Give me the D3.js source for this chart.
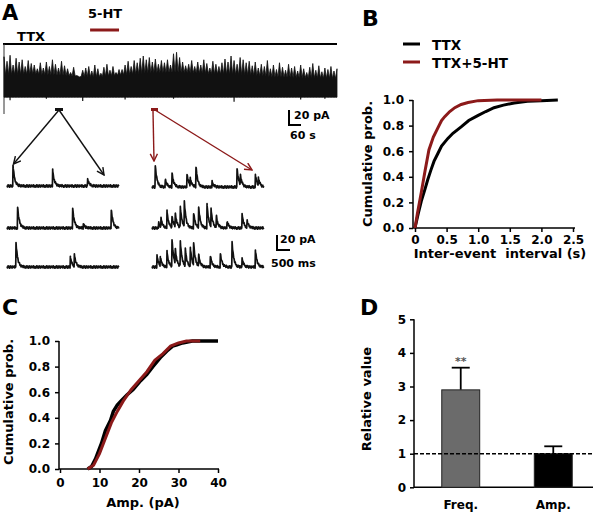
<!DOCTYPE html>
<html>
<head>
<meta charset="utf-8">
<script src="https://cdn.jsdelivr.net/npm/d3@7"></script>
<style>
  body { margin: 0; background: #fff; }
  svg { display: block; font-family: "DejaVu Sans", sans-serif; font-weight: bold; }
  .axis path, .axis line { stroke: #000; stroke-width: 1.5; }
  .axis text { font-size: 12px; font-weight: bold; font-family: "DejaVu Sans", sans-serif; fill: #000; }
</style>
</head>
<body>
<svg id="fig" width="600" height="515"></svg>
<script>
var RED = "#8c1a1a";

// ---- A : overview trace, one peak per column (pA above baseline), column = 16 s
var overviewPeaks = [
  51, 45, 53, 40, 49, 44,
  47, 38, 46, 42,
  40, 35, 43, 36,
  44, 38, 47, 41, 36, 45, 39,
  35, 30, 37, 26, 24, 33, 36,
  38, 32, 40, 35, 29, 37, 41, 33, 38, 30, 34,
  34, 40, 45, 38, 46, 43, 49,
  52, 47, 50, 44, 48, 41, 46,
  43, 47, 40, 55, 57,
  50, 44, 39,
  41, 46, 38, 44, 40, 47, 42, 36, 45, 41, 38, 43,
  48, 44, 52, 46, 41, 50, 47, 43, 45, 39,
  44, 36, 41, 38, 46, 35, 40, 34, 43, 37, 33, 41, 36,
  38, 32, 40, 35, 30, 37, 42, 33, 39, 31, 36, 34, 38, 32, 35
];
// solid part of the trace (pA), evenly spread over the recording
var overviewBand = [27, 28, 26, 24, 27, 30, 30, 28, 27, 24, 23, 22];
var overviewDips = [[2, -7], [14, -5], [26, -8], [40, -6], [56, -5], [76, -9], [98, -6], [106, -5]];
var colSeconds = 16;
var htOn = [455, 608];

// ---- A : example sweeps, events as [ms, pA]
var ttxEvents = [
  [[220, 27], [1745, 21], [3090, 9]],
  [[397, 28], [2515, 27], [2925, 5], [4000, 25]],
  [[335, 32], [2425, 13], [2580, 15]]
];
var htEvents = [
  [[115, 29], [500, 10], [760, 18], [1335, 18], [1460, 9], [1680, 27], [2300, 7], [3260, 25], [3390, 13], [3965, 16], [4080, 10]],
  [[243, 7], [335, 11], [566, 22], [758, 15], [885, 18], [1078, 27], [1232, 33], [1590, 20], [1783, 27], [2105, 31], [2260, 22], [2464, 15], [2876, 9], [3453, 18], [3646, 9]],
  [[181, 15], [308, 11], [566, 20], [758, 36], [885, 20], [1078, 33], [1270, 22], [1463, 24], [1590, 29], [1783, 15], [2233, 15], [2618, 18], [3068, 33], [3453, 11], [3965, 22]]
];
var baselineNoise = [0.6, -1.3, 1.5, -0.4, 1.1, -1.6, 0.3, 1.4, -0.9, 0.7, -1.4, 1.2, -0.3, 0.9, -1.1, 1.6, -0.7, 0.4, -1.5];
var sweepBase = [186, 228, 267];

// ---- B : inter-event interval cumulative distributions
var ttxIei  = [0, 0.05, 0.1, 0.15, 0.2, 0.25, 0.3, 0.36, 0.42, 0.52, 0.6, 0.73, 0.85, 1.0, 1.12, 1.25, 1.4, 1.57, 1.78, 2.0, 2.26];
var ttxIeiP = [0, 0.11, 0.21, 0.29, 0.375, 0.45, 0.52, 0.58, 0.64, 0.70, 0.74, 0.79, 0.84, 0.88, 0.91, 0.94, 0.96, 0.977, 0.99, 0.995, 1.0];
var htIei   = [0, 0.04, 0.1, 0.16, 0.22, 0.29, 0.36, 0.42, 0.47, 0.55, 0.63, 0.73, 0.84, 1.0, 1.3, 2.0];
var htIeiP  = [0, 0.12, 0.28, 0.45, 0.61, 0.71, 0.78, 0.84, 0.87, 0.91, 0.94, 0.965, 0.98, 0.995, 1.0, 1.0];
var ieiTicks = [0, 0.5, 1.0, 1.5, 2.0, 2.5];
var probTicks = [0, 0.2, 0.4, 0.6, 0.8, 1.0];

// ---- C : amplitude cumulative distributions
var ttxAmp  = [7, 8, 9, 9.5, 10.5, 11.5, 12.8, 13.5, 14.5, 15.4, 17, 18.5, 20.4, 22, 23.5, 25.4, 27, 28.5, 29.6, 31, 33.5, 40];
var ttxAmpP = [0, 0.02, 0.08, 0.12, 0.2, 0.3, 0.38, 0.45, 0.5, 0.53, 0.58, 0.62, 0.69, 0.74, 0.8, 0.87, 0.92, 0.96, 0.97, 0.985, 1.0, 1.0];
var htAmp   = [7, 8.5, 10, 11.5, 13, 14.5, 16, 18, 20, 22, 24, 26, 28, 30, 32, 35.5];
var htAmpP  = [0, 0.03, 0.12, 0.24, 0.36, 0.45, 0.53, 0.62, 0.69, 0.76, 0.85, 0.9, 0.96, 0.985, 1.0, 1.0];
var ampTicks = [0, 10, 20, 30, 40];

// ---- D : relative values
var barCats = ["Freq.", "Amp."];
var barMeans = [2.9, 1.0];
var barSem = [0.66, 0.22];
var barFills = ["#6b6b6b", "#000"];
var relTicks = [0, 1, 2, 3, 4, 5];

var svg = d3.select("#fig");

function label(x, y, txt, size, anchor) {
  return svg.append("text").attr("x", x).attr("y", y)
    .attr("font-size", size).attr("text-anchor", anchor || "start").text(txt);
}
function vlabel(x, y, txt) {
  return svg.append("text").attr("transform", "translate(" + x + "," + y + ") rotate(-90)")
    .attr("font-size", 13).attr("text-anchor", "middle").text(txt);
}

// ================= A
label(2, 20, "A", 21);
label(88, 18, "5-HT", 13);
label(17, 41, "TTX", 13);

var tEnd = (overviewPeaks.length - 1) * colSeconds;
var xO = d3.scaleLinear().domain([0, tEnd]).range([4, 337]);
var yO = d3.scaleLinear().domain([0, 20]).range([95, 80]);
// band level as a piecewise scale over time
var bandAt = d3.scaleLinear()
  .domain(overviewBand.map(function (d, i) { return i * tEnd / (overviewBand.length - 1); }))
  .range(overviewBand);

svg.append("line").attr("x1", xO(htOn[0])).attr("x2", xO(htOn[1]))
  .attr("y1", 30).attr("y2", 30).attr("stroke", RED).attr("stroke-width", 3);
svg.append("line").attr("x1", 3).attr("x2", 337).attr("y1", 44).attr("y2", 44)
  .attr("stroke", "#000").attr("stroke-width", 2);
svg.append("line").attr("x1", 4).attr("x2", 4).attr("y1", 44).attr("y2", 114)
  .attr("stroke", "#333").attr("stroke-width", 1);

// spiky envelope: peak at each column, back down to the band between columns
var env = [];
overviewPeaks.forEach(function (p, i) {
  var t = i * colSeconds;
  env.push([t, p]);
  if (i < overviewPeaks.length - 1) env.push([t + colSeconds / 2, bandAt(t + colSeconds / 2)]);
});
svg.append("path").datum(env)
  .attr("fill", "#111").attr("stroke", "#111").attr("stroke-width", 0.8)
  .attr("d", d3.area().x(function (d) { return xO(d[0]); })
    .y0(yO(-3)).y1(function (d) { return yO(d[1]); }));
svg.append("g").selectAll("line").data(overviewDips).enter().append("line")
  .attr("x1", function (d) { return xO(d[0] * colSeconds); })
  .attr("x2", function (d) { return xO(d[0] * colSeconds); })
  .attr("y1", yO(0)).attr("y2", function (d) { return yO(d[1]); })
  .attr("stroke", "#111").attr("stroke-width", 1.2);

// scale bars
svg.append("path").attr("d", "M289,110V125H301").attr("fill", "none").attr("stroke", "#000").attr("stroke-width", 2);
label(294, 119, "20 pA", 11);
label(290, 139, "60 s", 11);
svg.append("path").attr("d", "M277,235V250H290").attr("fill", "none").attr("stroke", "#000").attr("stroke-width", 2);
label(280, 243, "20 pA", 11);
label(271, 267, "500 ms", 11);

// arrows
var defs = svg.append("defs");
[["ahK", "#111"], ["ahR", RED]].forEach(function (m) {
  defs.append("marker").attr("id", m[0]).attr("viewBox", "0 -5 10 10")
    .attr("refX", 9).attr("refY", 0).attr("markerWidth", 9).attr("markerHeight", 9)
    .attr("markerUnits", "userSpaceOnUse").attr("orient", "auto")
    .append("path").attr("d", "M1,-4L9,0L1,4").attr("fill", "none")
    .attr("stroke", m[1]).attr("stroke-width", 1.6);
});
svg.append("rect").attr("x", 55).attr("y", 108).attr("width", 8).attr("height", 3).attr("fill", "#111");
svg.append("rect").attr("x", 151).attr("y", 108).attr("width", 7).attr("height", 3).attr("fill", RED);
[[59, 110, 13.5, 164, "#111", "ahK"], [59, 110, 104, 175, "#111", "ahK"],
 [153, 111, 154, 161, RED, "ahR"], [155, 110, 252, 170, RED, "ahR"]].forEach(function (a) {
  svg.append("line").attr("x1", a[0]).attr("y1", a[1]).attr("x2", a[2]).attr("y2", a[3])
    .attr("stroke", a[4]).attr("stroke-width", 1.4).attr("marker-end", "url(#" + a[5] + ")");
});

// example sweeps
function sweep(events, x0, base) {
  var xs = d3.scaleLinear().domain([0, 4300]).range([x0, x0 + 4300 * 13 / 500]);
  var ys = d3.scaleLinear().domain([0, 20]).range([base, base - 15]);
  var ts = d3.range(0, 4301, 20);
  events.forEach(function (e) { ts.push(e[0], e[0] + 12); });
  ts.sort(function (a, b) { return a - b; });
  var pts = ts.map(function (t, k) {
    var v = baselineNoise[k % baselineNoise.length];
    events.forEach(function (e) {
      var dt = t - e[0];
      if (dt >= 0) v += dt < 12 ? e[1] * dt / 12 : e[1] * Math.exp(-(dt - 12) / 65);
    });
    return [t, v];
  });
  svg.append("path").datum(pts).attr("fill", "none").attr("stroke", "#111")
    .attr("stroke-width", 1.7).attr("stroke-linejoin", "round")
    .attr("d", d3.line().x(function (d) { return xs(d[0]); }).y(function (d) { return ys(d[1]); }));
}
ttxEvents.forEach(function (ev, r) { sweep(ev, 7, sweepBase[r]); });
htEvents.forEach(function (ev, r) { sweep(ev, 152, sweepBase[r] + (r === 0 ? 1 : 0)); });

// ================= B
label(362, 26, "B", 22);
svg.append("line").attr("x1", 403).attr("x2", 420).attr("y1", 44).attr("y2", 44).attr("stroke", "#000").attr("stroke-width", 3);
label(432, 50, "TTX", 13.5);
svg.append("line").attr("x1", 403).attr("x2", 420).attr("y1", 62).attr("y2", 62).attr("stroke", RED).attr("stroke-width", 3);
label(432, 68, "TTX+5-HT", 13.5);

var xB = d3.scaleLinear().domain([0, 2.5]).range([415, 573]);
var yB = d3.scaleLinear().domain([0, 1]).range([228, 100]);
svg.append("g").attr("class", "axis").attr("transform", "translate(413,0)")
  .call(d3.axisLeft(yB).tickValues(probTicks).tickFormat(d3.format(".1f")).tickSize(4).tickPadding(5))
  .call(function (g) { g.select(".domain").remove(); });
svg.append("g").attr("class", "axis").attr("transform", "translate(0,228)")
  .call(d3.axisBottom(xB).tickValues(ieiTicks).tickFormat(function (d) { return d === 0 ? "0" : d3.format(".1f")(d); }).tickSize(4).tickPadding(3))
  .call(function (g) { g.select(".domain").remove(); });
svg.append("path").attr("d", "M413,100V228H575").attr("fill", "none").attr("stroke", "#000").attr("stroke-width", 1.5);

var lineB = d3.line().x(function (d) { return xB(d[0]); }).y(function (d) { return yB(d[1]); });
svg.append("path").datum(d3.zip(ttxIei, ttxIeiP)).attr("fill", "none").attr("stroke", "#000")
  .attr("stroke-width", 3).attr("d", lineB);
svg.append("path").datum(d3.zip(htIei, htIeiP)).attr("fill", "none").attr("stroke", RED)
  .attr("stroke-width", 3).attr("d", lineB);
label(500, 258, "Inter-event  interval (s)", 13, "middle").attr("xml:space", "preserve");
vlabel(372, 164, "Cumulative prob.");

// ================= C
label(2, 315, "C", 22);
var xC = d3.scaleLinear().domain([0, 40]).range([60, 218]);
var yC = d3.scaleLinear().domain([0, 1]).range([469, 341]);
svg.append("g").attr("class", "axis").attr("transform", "translate(59,0)")
  .call(d3.axisLeft(yC).tickValues(probTicks).tickFormat(d3.format(".1f")).tickSize(4).tickPadding(5))
  .call(function (g) { g.select(".domain").remove(); });
svg.append("g").attr("class", "axis").attr("transform", "translate(0,469)")
  .call(d3.axisBottom(xC).tickValues(ampTicks).tickFormat(d3.format("d")).tickSize(4).tickPadding(5))
  .call(function (g) { g.select(".domain").remove(); });
svg.append("path").attr("d", "M59,341V469H219").attr("fill", "none").attr("stroke", "#000").attr("stroke-width", 1.5);

var lineC = d3.line().x(function (d) { return xC(d[0]); }).y(function (d) { return yC(d[1]); });
svg.append("path").datum(d3.zip(ttxAmp, ttxAmpP)).attr("fill", "none").attr("stroke", "#000")
  .attr("stroke-width", 3.5).attr("d", lineC);
svg.append("path").datum(d3.zip(htAmp, htAmpP)).attr("fill", "none").attr("stroke", RED)
  .attr("stroke-width", 3).attr("d", lineC);
label(143, 507, "Amp. (pA)", 13, "middle");
vlabel(13, 402, "Cumulative prob.");

// ================= D
label(360, 315, "D", 22);
var xD = d3.scaleBand().domain(barCats).range([414, 600]).paddingInner(0.59).paddingOuter(0.3);
var yD = d3.scaleLinear().domain([0, 5]).range([487.3, 319.3]);
svg.append("g").attr("class", "axis").attr("transform", "translate(414,0)")
  .call(d3.axisLeft(yD).tickValues(relTicks).tickFormat(d3.format("d")).tickSize(4).tickPadding(4))
  .call(function (g) { g.select(".domain").remove(); });
svg.append("path").attr("d", "M414,319.3V487.3H593").attr("fill", "none").attr("stroke", "#000").attr("stroke-width", 1.5);

var bars = svg.append("g").selectAll("g").data(barCats).enter().append("g");
bars.append("line")
  .attr("x1", function (d) { return xD(d) + xD.bandwidth() / 2; })
  .attr("x2", function (d) { return xD(d) + xD.bandwidth() / 2; })
  .attr("y1", function (d, i) { return yD(barMeans[i]); })
  .attr("y2", function (d, i) { return yD(barMeans[i] + barSem[i]); })
  .attr("stroke", "#000").attr("stroke-width", 1.8);
bars.append("line")
  .attr("x1", function (d) { return xD(d) + xD.bandwidth() / 2 - 9; })
  .attr("x2", function (d) { return xD(d) + xD.bandwidth() / 2 + 9; })
  .attr("y1", function (d, i) { return yD(barMeans[i] + barSem[i]); })
  .attr("y2", function (d, i) { return yD(barMeans[i] + barSem[i]); })
  .attr("stroke", "#000").attr("stroke-width", 1.8);
bars.append("rect")
  .attr("x", function (d) { return xD(d); })
  .attr("width", xD.bandwidth())
  .attr("y", function (d, i) { return yD(barMeans[i]); })
  .attr("height", function (d, i) { return yD(0) - yD(barMeans[i]); })
  .attr("fill", function (d, i) { return barFills[i]; })
  .attr("stroke", "#222").attr("stroke-width", 1);

svg.append("line").attr("x1", 414).attr("x2", 593).attr("y1", yD(1)).attr("y2", yD(1))
  .attr("stroke", "#000").attr("stroke-width", 1.4).attr("stroke-dasharray", "4,2");

svg.append("g").attr("class", "axis").attr("transform", "translate(0,487.3)")
  .call(d3.axisBottom(xD).tickSize(0).tickPadding(13))
  .call(function (g) { g.select(".domain").remove(); g.selectAll("text").attr("font-size", 13); });

label(xD("Freq.") + xD.bandwidth() / 2, yD(barMeans[0] + barSem[0]) - 3, "**", 11, "middle").attr("fill", "#555");
vlabel(371, 399, "Relative value");
</script>
</body>
</html>
